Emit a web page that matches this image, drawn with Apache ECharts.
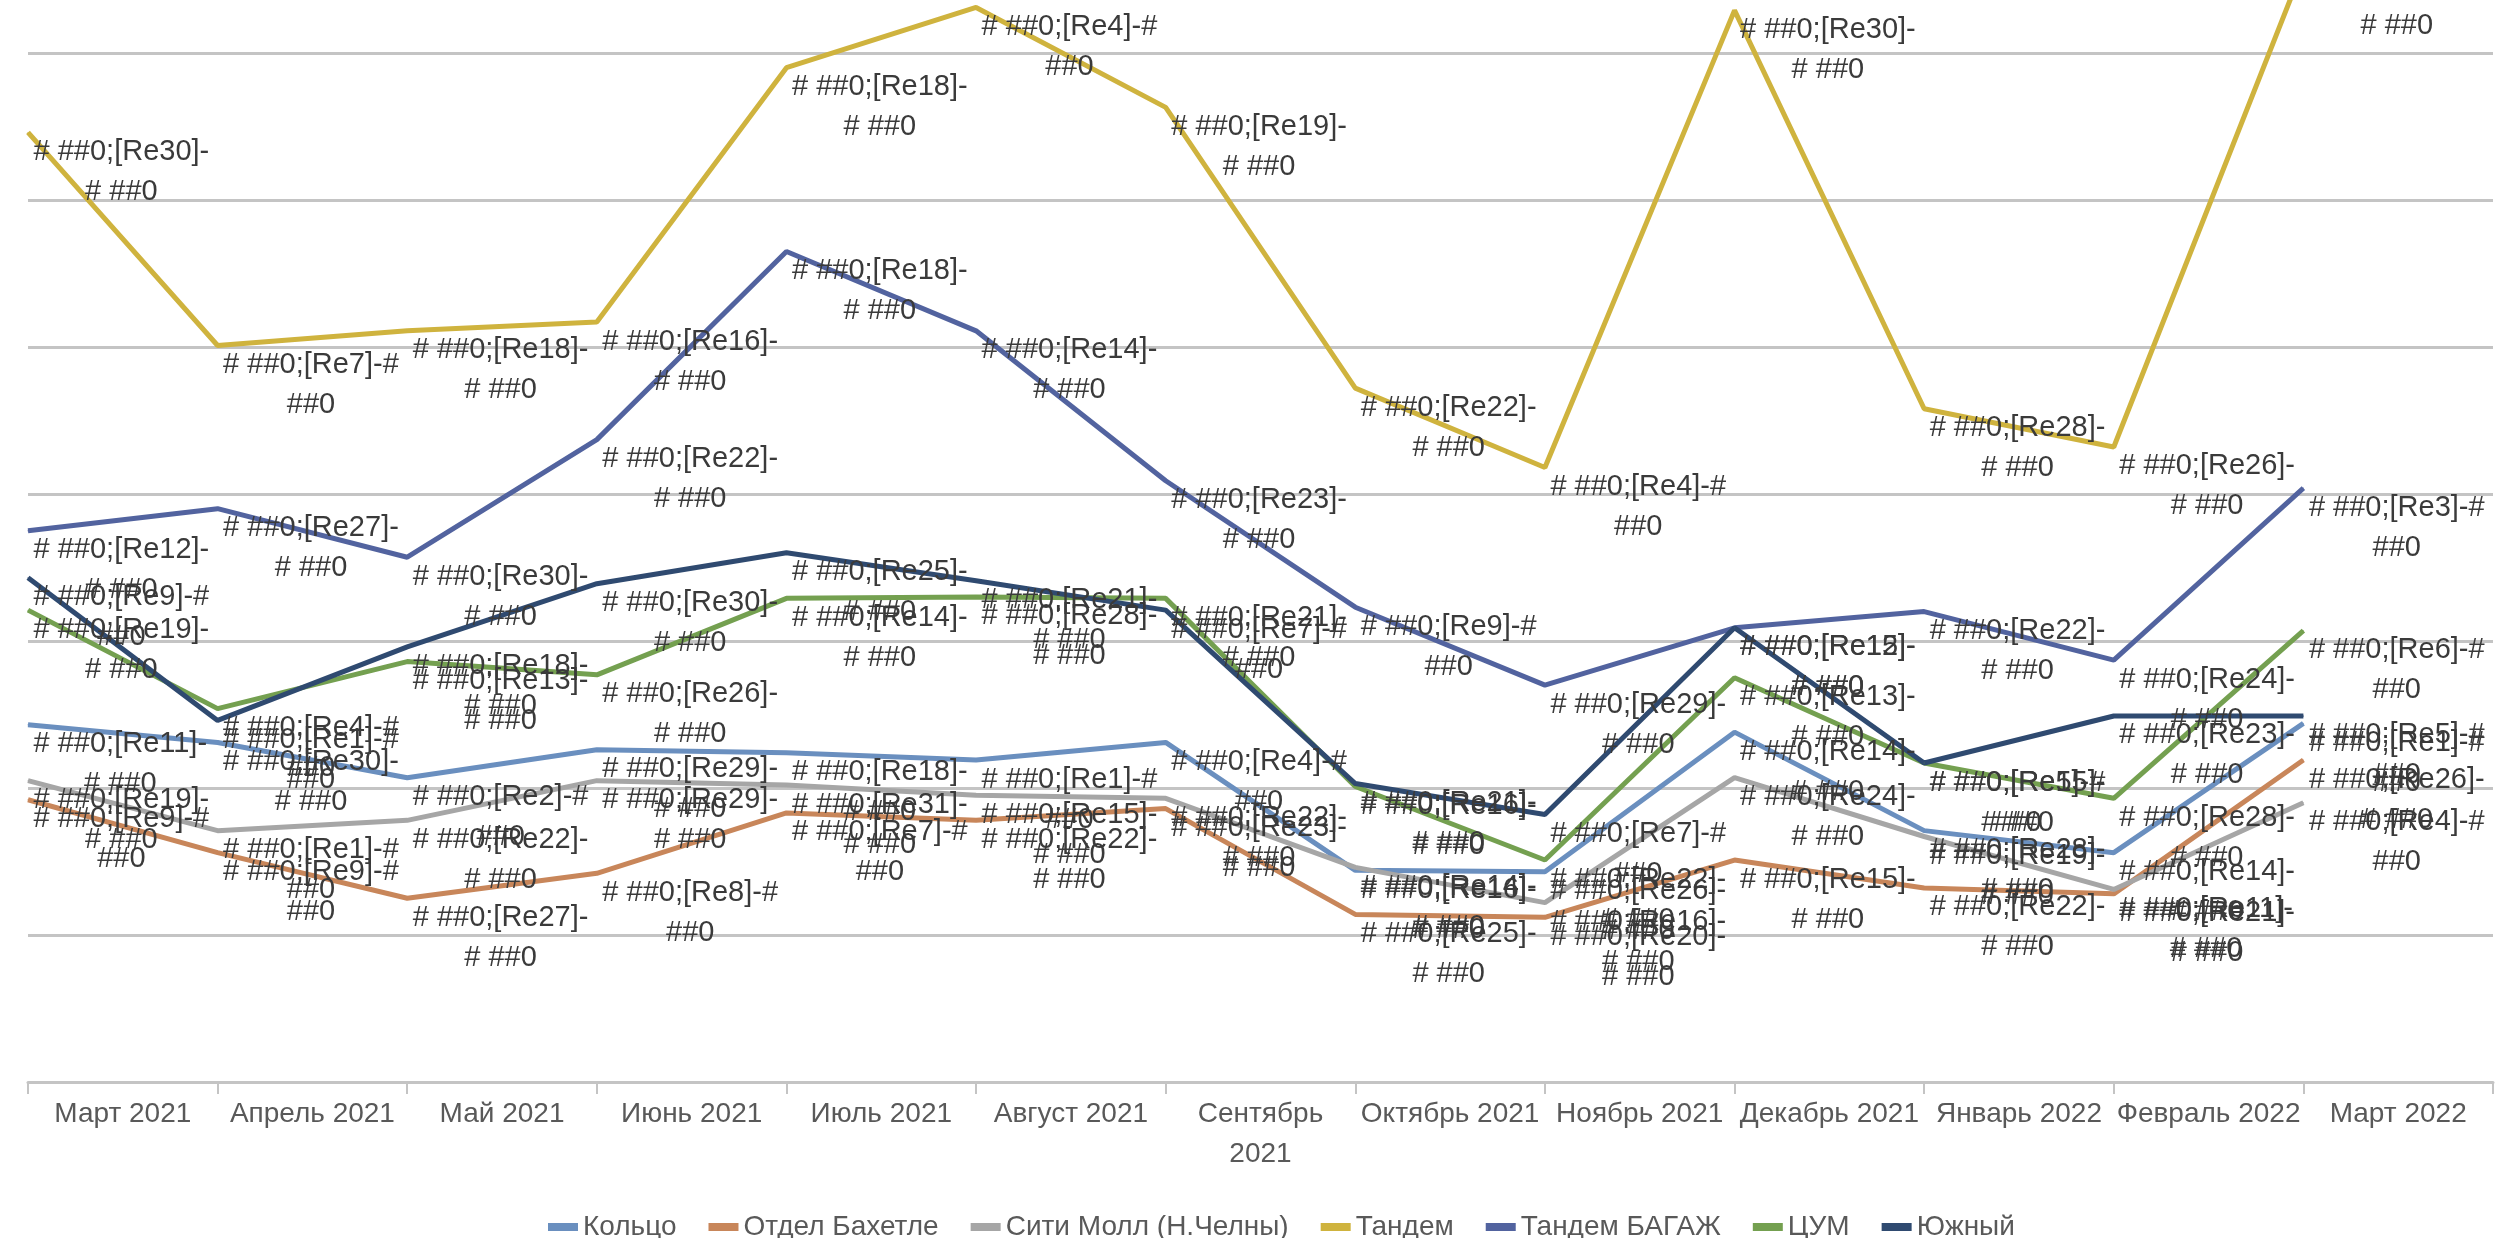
<!DOCTYPE html>
<html>
<head>
<meta charset="utf-8">
<script src="https://cdn.jsdelivr.net/npm/echarts@6/dist/echarts.min.js"></script>
<style>
  html, body { margin: 0; padding: 0; background: #ffffff; }
  #chart { width: 2506px; height: 1238px; }
</style>
</head>
<body>
<div id="chart"></div>
<script>
// Months on the category axis
const months = ['Март 2021', 'Апрель 2021', 'Май 2021', 'Июнь 2021', 'Июль 2021', 'Август 2021',
  'Сентябрь 2021', 'Октябрь 2021', 'Ноябрь 2021', 'Декабрь 2021', 'Январь 2022', 'Февраль 2022', 'Март 2022'];

// Series names (legend order)
const seriesNames = ['Кольцо', 'Отдел Бахетле', 'Сити Молл (Н.Челны)', 'Тандем', 'Тандем БАГАЖ', 'ЦУМ', 'Южный'];

// Monthly values per store
const kolco        = [243, 231, 207, 226, 224, 219, 231, 144, 143, 238, 171, 156, 244];
const bahetle      = [192, 156, 125, 142, 183, 178, 186, 114, 112, 151, 132, 128, 219];
const sitiMoll     = [205, 171, 178, 205, 202, 195, 193, 146, 122, 207, 167, 131, 190];
const tandem       = [646, 501, 511, 517, 690, 731, 663, 472, 418, 729, 458, 432, 759];
const tandemBagazh = [375, 390, 357, 437, 565, 511, 409, 323, 270, 309, 320, 287, 404];
const cum          = [321, 254, 286, 277, 329, 330, 329, 201, 151, 275, 217, 193, 307];
const yuzhny       = [343, 246, 296, 339, 360, 341, 321, 203, 182, 309, 217, 249, 249];

// Colour index used inside the number-format code shown as each point's label
const kolcoCodes        = [11, 30, 2, 29, 18, 1, 4, 16, 26, 14, 28, 14, 1];
const bahetleCodes      = [9, 9, 27, 8, 7, 22, 23, 25, 20, 15, 22, 21, 26];
const sitiMollCodes     = [19, 1, 22, 29, 31, 15, 22, 14, 16, 24, 19, 11, 4];
const tandemCodes       = [30, 7, 18, 16, 18, 4, 19, 22, 4, 30, 28, 26, 12];
const tandemBagazhCodes = [12, 27, 30, 22, 18, 14, 23, 9, 29, 12, 22, 24, 3];
const cumCodes          = [19, 4, 13, 26, 14, 28, 21, 16, 22, 13, 5, 28, 6];
const yuzhnyCodes       = [9, 1, 18, 30, 25, 21, 7, 21, 7, 15, 15, 23, 5];

const colors = ['#6a8fbf', '#c8865a', '#a6a6a6', '#cfb33e', '#52639f', '#74a050', '#2f4a70'];

const FONT = '"Liberation Sans", Arial, sans-serif';
const LABEL_SIZE = 29;
const LABEL_WRAP = 183;
const AXIS_SIZE = 28;
const BAND_WIDTH = 188;

// Word-wrap text the way a spreadsheet does: break after hyphens or at spaces
const measureCtx = document.createElement('canvas').getContext('2d');
function wrapText(text, maxWidth, fontSize) {
  measureCtx.font = fontSize + 'px ' + FONT;
  const parts = text.split(/(?<=-)|(?= )/);
  const lines = [];
  let line = '';
  for (const p of parts) {
    const candidate = line + p;
    if (line && measureCtx.measureText(candidate).width > maxWidth) {
      lines.push(line);
      line = p.replace(/^\s+/, '');
    } else {
      line = candidate;
    }
  }
  if (line) lines.push(line);
  return lines;
}

function makeSeries(name, values, codes, color) {
  return {
    name: name,
    type: 'line',
    xAxisIndex: 1,
    data: values,
    clip: false,
    symbol: 'circle',
    symbolSize: 1,
    showAllSymbol: true,
    lineStyle: { color: color, width: 5 },
    itemStyle: { color: color },
    emphasis: { disabled: true },
    label: {
      show: true,
      position: [6, 0],
      align: 'left',
      verticalAlign: 'top',
      formatter: function (p) {
        const text = '# ##0;[Re' + codes[p.dataIndex] + ']-# ##0';
        return wrapText(text, LABEL_WRAP, LABEL_SIZE).map(function (s) { return '{c|' + s + '}'; }).join('\n');
      },
      rich: {
        c: { align: 'center', fontSize: LABEL_SIZE, lineHeight: 40, color: '#3a3a3a', fontFamily: FONT }
      }
    }
  };
}

const chart = echarts.init(document.getElementById('chart'), null, { renderer: 'canvas' });
chart.setOption({
  animation: false,
  backgroundColor: '#ffffff',
  grid: { left: 28, right: 13, top: 53, bottom: 156 },
  legend: {
    data: seriesNames,
    left: 543,
    top: 1203,
    icon: 'rect',
    itemWidth: 30,
    itemHeight: 8,
    itemGap: 32,
    textStyle: { fontSize: 28, color: '#595959', fontFamily: FONT, lineHeight: 38 }
  },
  xAxis: [
    {
      type: 'category',
      data: months,
      boundaryGap: true,
      axisLine: { show: true, lineStyle: { color: '#c4c4c4', width: 3 } },
      axisTick: { show: true, length: 12, lineStyle: { color: '#c4c4c4', width: 2 } },
      axisLabel: {
        interval: 0,
        fontSize: AXIS_SIZE,
        color: '#595959',
        fontFamily: FONT,
        margin: 12,
        lineHeight: 40,
        formatter: function (v) { return wrapText(v, BAND_WIDTH, AXIS_SIZE).join('\n'); }
      },
      splitLine: { show: false }
    },
    {
      type: 'category',
      data: months.concat(['']),
      boundaryGap: false,
      show: false
    }
  ],
  yAxis: {
    type: 'value',
    min: 0,
    max: 700,
    interval: 100,
    axisLine: { show: false },
    axisTick: { show: false },
    axisLabel: { show: false },
    splitLine: { show: true, lineStyle: { color: '#c4c4c4', width: 3 } }
  },
  series: [
    makeSeries(seriesNames[0], kolco, kolcoCodes, colors[0]),
    makeSeries(seriesNames[1], bahetle, bahetleCodes, colors[1]),
    makeSeries(seriesNames[2], sitiMoll, sitiMollCodes, colors[2]),
    makeSeries(seriesNames[3], tandem, tandemCodes, colors[3]),
    makeSeries(seriesNames[4], tandemBagazh, tandemBagazhCodes, colors[4]),
    makeSeries(seriesNames[5], cum, cumCodes, colors[5]),
    makeSeries(seriesNames[6], yuzhny, yuzhnyCodes, colors[6])
  ]
});
</script>
</body>
</html>
